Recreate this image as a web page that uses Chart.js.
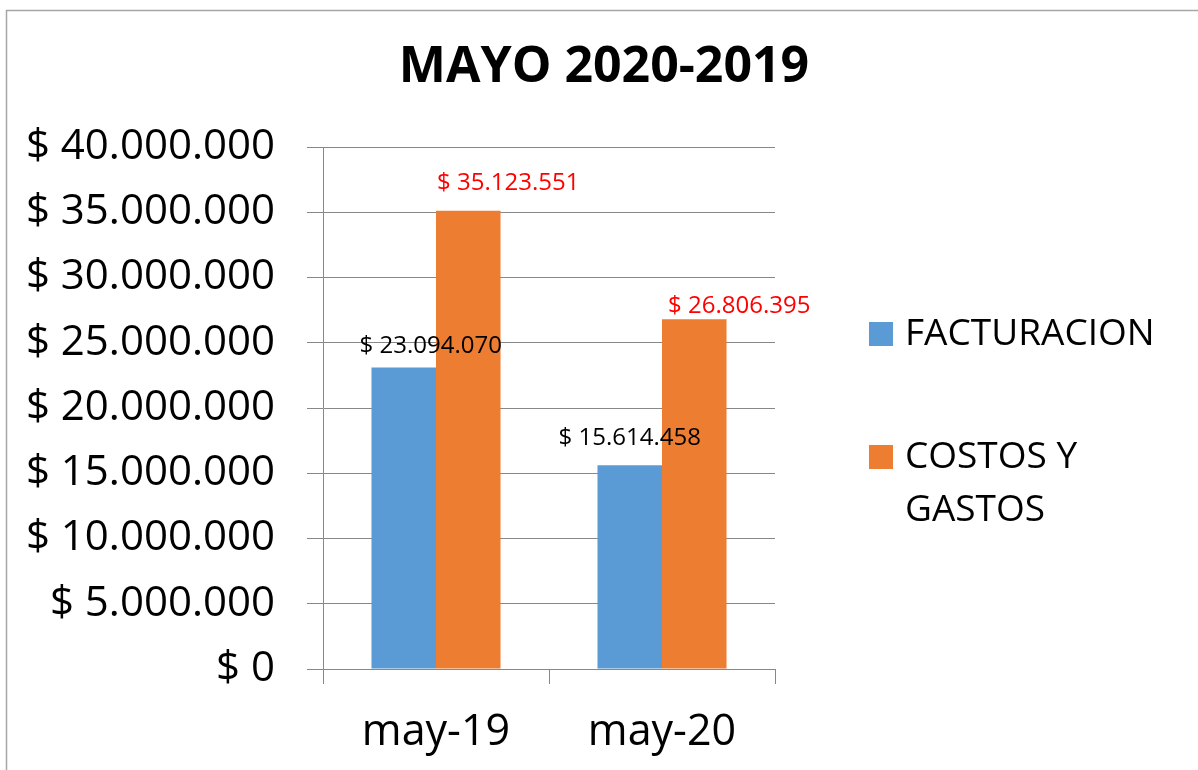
<!DOCTYPE html>
<html>
<head>
<meta charset="utf-8">
<script src="https://cdn.jsdelivr.net/npm/chart.js@4/dist/chart.umd.min.js"></script>
<style>
  html, body { margin: 0; padding: 0; background: #fff; }
  #wrap { width: 1198px; height: 770px; position: relative; }
</style>
</head>
<body>
<div id="wrap"><canvas id="chart"></canvas></div>
<script>
const categories = ['may-19', 'may-20'];
const facturacion = [23094070, 15614458];
const costosGastos = [35123551, 26806395];
const seriesNames = ['FACTURACION', 'COSTOS Y\nGASTOS'];
const chartTitle = 'MAYO 2020-2019';

const FONT = "'Open Sans', 'Noto Sans', sans-serif";

function pesos(v) {
    return '$ ' + String(Math.round(v)).replace(/\B(?=(\d{3})+(?!\d))/g, '.');
}

// marco, título, leyenda y etiquetas dibujados a mano
const extras = {
    id: 'extras',
    afterDraw(chart) {
        const ctx = chart.ctx;
        ctx.save();
        // marco
        ctx.strokeStyle = '#a6a6a6';
        ctx.lineWidth = 1.5;
        ctx.beginPath();
        ctx.moveTo(6.5, 770);
        ctx.lineTo(6.5, 10.5);
        ctx.lineTo(1198, 10.5);
        ctx.stroke();

        // título
        ctx.fillStyle = '#000';
        ctx.font = "bold 50px " + FONT;
        ctx.textAlign = 'center';
        ctx.textBaseline = 'middle';
        ctx.fillText(chartTitle, 604, 68);

        // etiquetas de datos
        const offs = [[[27, -21], [0, -27]], [[40, -27], [45, -13]]];
        const colors = ['#000', '#ff0000'];
        ctx.font = "24px " + FONT;
        chart.data.datasets.forEach((ds, di) => {
            const meta = chart.getDatasetMeta(di);
            meta.data.forEach((bar, i) => {
                ctx.fillStyle = colors[di];
                ctx.fillText(pesos(ds.data[i]), bar.x + offs[di][i][0], bar.y + offs[di][i][1]);
            });
        });

        // leyenda
        const rows = [334, 457];
        ctx.textAlign = 'left';
        ctx.font = "37px " + FONT;
        chart.data.datasets.forEach((ds, di) => {
            const y = rows[di];
            ctx.fillStyle = ds.backgroundColor;
            ctx.fillRect(869, y - 12, 24, 24);
            ctx.fillStyle = '#000';
            seriesNames[di].split('\n').forEach((line, li) => {
                ctx.fillText(line, 905, y + li * 53);
            });
        });
        ctx.restore();
    }
};

const chartData = {
    labels: categories,
    datasets: [
        {
            label: seriesNames[0],
            data: facturacion,
            backgroundColor: '#5b9bd5',
            barPercentage: 1,
            categoryPercentage: 0.571
        },
        {
            label: seriesNames[1],
            data: costosGastos,
            backgroundColor: '#ed7d31',
            barPercentage: 1,
            categoryPercentage: 0.571
        }
    ]
};

const config = {
    type: 'bar',
    data: chartData,
    options: {
        responsive: false,
        animation: false,
        layout: {
            padding: { left: 0, top: 147, right: 423, bottom: 0 }
        },
        plugins: {
            legend: { display: false },
            title: { display: false },
            tooltip: { enabled: false }
        },
        scales: {
            x: {
                afterFit: s => { s.height = 101; },
                grid: {
                    offset: true,
                    drawOnChartArea: false,
                    drawTicks: true,
                    tickLength: 15,
                    color: '#888'
                },
                border: { color: '#888', width: 1 },
                ticks: {
                    color: '#000',
                    padding: 23,
                    font: { family: FONT, size: 43 }
                }
            },
            y: {
                min: 0,
                max: 40000000,
                afterFit: s => { s.width = 323; },
                grid: {
                    color: '#888',
                    tickLength: 16
                },
                border: { color: '#888', width: 1 },
                ticks: {
                    stepSize: 5000000,
                    color: '#000',
                    padding: 32,
                    font: { family: FONT, size: 42 },
                    callback: v => pesos(v)
                }
            }
        }
    },
    plugins: [extras]
};

const canvas = document.getElementById('chart');
canvas.width = 1198;
canvas.height = 770;
const mayoChart = new Chart(canvas, config);
</script>
</body>
</html>
